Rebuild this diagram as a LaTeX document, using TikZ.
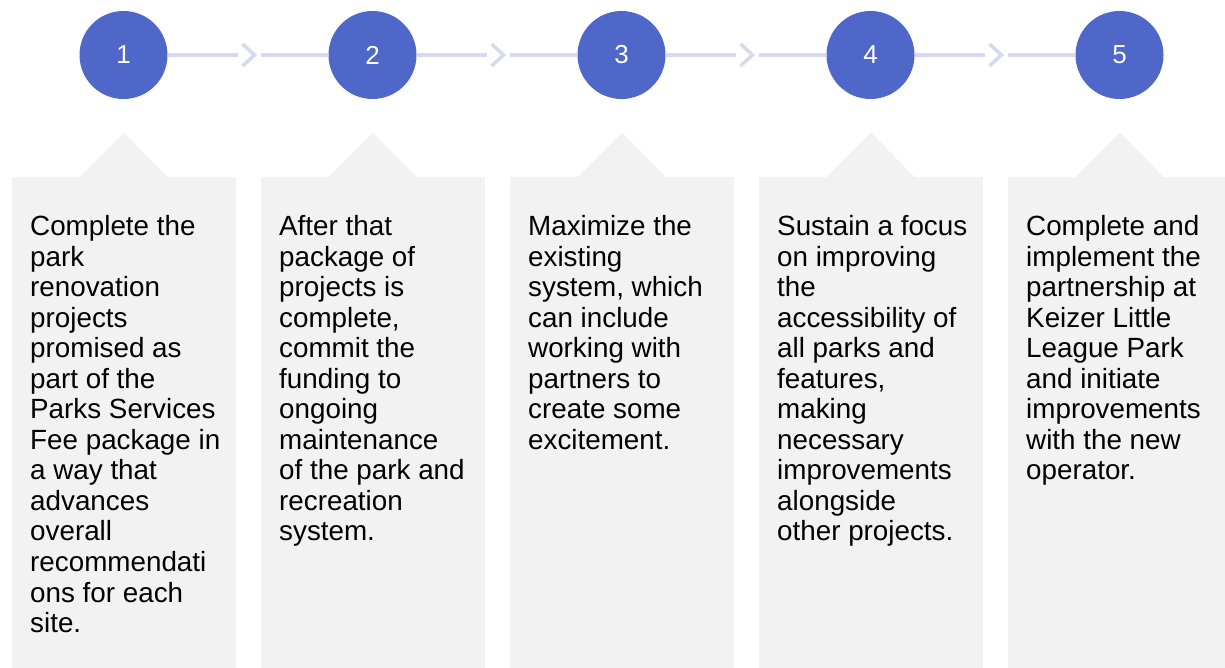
\documentclass[tikz,border=0pt]{standalone}
\usepackage{fontspec}
\setmainfont{Liberation Sans}
\definecolor{stepblue}{HTML}{4E67C8}
\definecolor{linklav}{HTML}{D6D9EF}
\definecolor{boxgray}{HTML}{F2F2F2}
\tikzset{
  stepcircle/.style={circle, fill=stepblue, minimum size=88pt, inner sep=0pt, text=white, font=\fontsize{26}{30}\selectfont},
  panel/.style={fill=boxgray, draw=none},
  link/.style={draw=linklav, line width=3.5pt},
  chev/.style={draw=linklav, line width=3.5pt, line join=miter},
  desc/.style={anchor=base west, inner sep=0pt, align=left, font=\fontsize{27.8}{30.5}\selectfont}
}
\newcommand{\desctext}[1]{\parbox[t]{205pt}{\raggedright #1}}
\begin{document}
\begin{tikzpicture}[x=1pt,y=-1pt]
\useasboundingbox (0,0) rectangle (1225,668);
% panels with pointer triangles
\foreach \i/\cx in {1/123.5,2/372.5,3/621.5,4/870.5,5/1119.5}{
  \pgfmathsetmacro{\bl}{\cx-111.5}
  \pgfmathsetmacro{\br}{min(\cx+112.5,1225)}
  \fill[panel] (\cx-44.5,177.5) -- (\cx+0.5,132.5) -- (\cx+44.5,177.5) -- cycle;
  \fill[panel] (\bl,177) rectangle (\br,668);
}
% circles
\node[stepcircle] (c1) at (123.5,55) {1};
\node[stepcircle] (c2) at (372.5,55) {2};
\node[stepcircle] (c3) at (621.5,55) {3};
\node[stepcircle] (c4) at (870.5,55) {4};
\node[stepcircle] (c5) at (1119.5,55) {5};
% connectors
\foreach \a/\b/\mx in {c1/c2/247.5,c2/c3/496.5,c3/c4/745.5,c4/c5/994.5}{
  \coordinate (ea\a) at (\mx-10,55);
  \coordinate (eb\a) at (\mx+13,55);
  \coordinate (ct\a) at (\mx+7,55);
  \coordinate (cu\a) at (\mx-5,44);
  \coordinate (cd\a) at (\mx-5,66);
  \draw[link] (\a.east) -- (ea\a);
  \draw[link] (eb\a) -- (\b.west);
  \draw[chev] (cu\a) -- (ct\a) -- (cd\a);
}
% texts
\node[desc] (t1) at (30,236) {\desctext{Complete the\\park\\renovation\\projects\\promised as\\part of the\\Parks Services\\Fee package in\\a way that\\advances\\overall\\recommendati\\ons for each\\site.}};
\node[desc] (t2) at (279,236) {\desctext{After that\\package of\\projects is\\complete,\\commit the\\funding to\\ongoing\\maintenance\\of the park and\\recreation\\system.}};
\node[desc] (t3) at (528,236) {\desctext{Maximize the\\existing\\system, which\\can include\\working with\\partners to\\create some\\excitement.}};
\node[desc] (t4) at (777,236) {\desctext{Sustain a focus\\on improving\\the\\accessibility of\\all parks and\\features,\\making\\necessary\\improvements\\alongside\\other projects.}};
\node[desc] (t5) at (1026,236) {\desctext{Complete and\\implement the\\partnership at\\Keizer Little\\League Park\\and initiate\\improvements\\with the new\\operator.}};
\end{tikzpicture}
\end{document}
